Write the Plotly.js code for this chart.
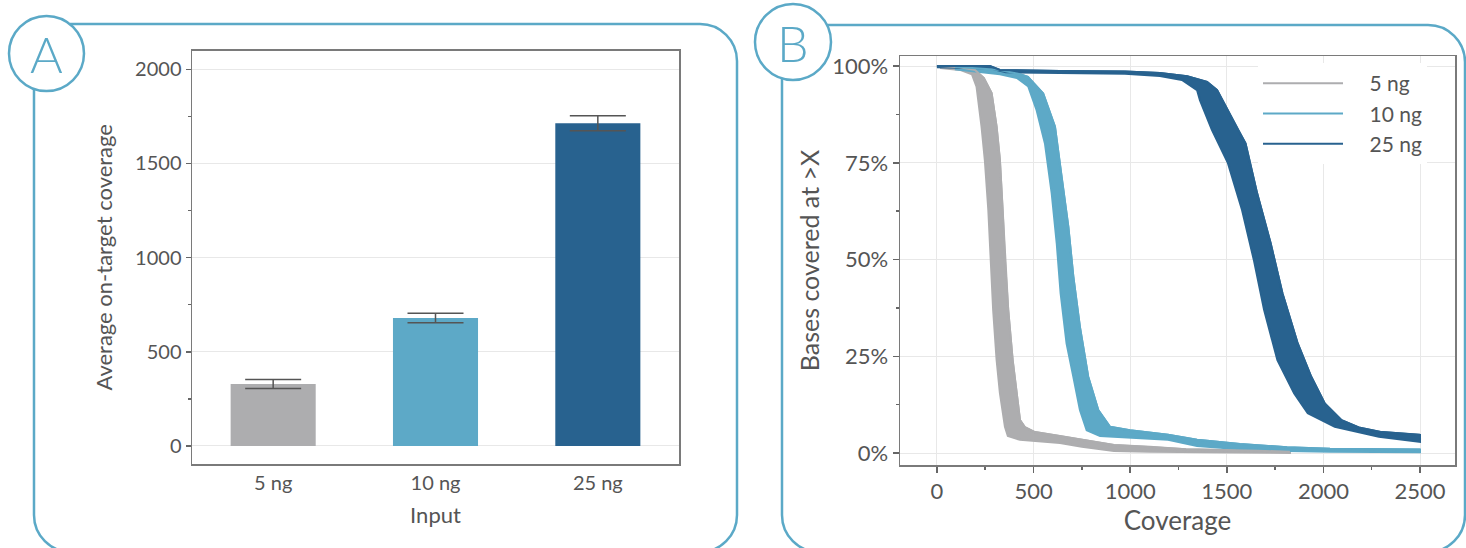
<!DOCTYPE html>
<html>
<head>
<meta charset="utf-8">
<script src="https://cdn.plot.ly/plotly-3.0.1.min.js"></script>
<style>html,body{margin:0;padding:0;background:#fff;}#chart{width:1466px;height:548px;}</style>
</head>
<body>
<div id="chart"></div>
<script>
// ---------- Panel A data ----------
const categories = ['5 ng', '10 ng', '25 ng'];
const meanCoverage = [329, 679, 1714];
const coverageError = [24, 25, 40];
const barColors = ['#adadaf', '#5da9c7', '#28628f'];

// ---------- Panel B data (coverage X, % bases covered > X) ----------
const ng5UpperX = [16, 119, 197, 243, 283, 309, 326, 340, 352, 369, 392, 413, 430, 455, 507, 637, 750, 916, 1102, 1289, 1661, 1827];
const ng5UpperY = [100, 99.7, 99.0, 96.9, 93.0, 84.3, 75.7, 62.8, 49.9, 37.0, 24.0, 15.5, 8.5, 6.7, 5.4, 4.4, 3.4, 2.1, 1.6, 1.0, 0.6, 0.3];
const ng5LowerX = [16, 119, 181, 205, 231, 248, 266, 278, 291, 309, 326, 352, 367, 430, 637, 750, 916, 1102, 1661, 1827];
const ng5LowerY = [99.5, 99.0, 97.9, 94.7, 84.3, 75.7, 62.8, 49.9, 37.0, 24.0, 15.5, 6.8, 4.4, 3.4, 2.6, 1.6, 0.5, 0.3, 0, 0];

const ng10UpperX = [93, 326, 430, 471, 550, 611, 645, 680, 706, 740, 783, 835, 895, 999, 1196, 1346, 1568, 1812, 2034, 2500];
const ng10UpperY = [99.8, 99.0, 97.9, 97.2, 92.9, 84.3, 71.4, 58.5, 45.6, 32.6, 19.7, 11.1, 6.8, 5.9, 4.7, 3.4, 2.3, 1.5, 1.1, 0.9];
const ng10LowerX = [93, 326, 414, 473, 516, 559, 594, 620, 640, 671, 706, 740, 775, 844, 1196, 1346, 1568, 1812, 2034, 2500];
const ng10LowerY = [99.2, 97.9, 96.9, 94.7, 88.6, 80.0, 67.1, 54.2, 41.3, 28.3, 19.7, 11.1, 5.9, 4.4, 3.4, 1.8, 1.0, 0.5, 0.3, 0.2];

const ng25UpperX = [0, 274, 326, 637, 973, 1154, 1295, 1398, 1450, 1496, 1558, 1597, 1657, 1727, 1788, 1867, 1937, 2007, 2094, 2189, 2303, 2500];
const ng25UpperY = [100, 100, 99.0, 98.7, 98.6, 98.2, 97.4, 95.9, 93.8, 89.5, 83.5, 80.0, 67.1, 54.2, 41.3, 28.3, 19.7, 12.8, 8.5, 6.5, 5.4, 4.7];
const ng25LowerX = [0, 274, 357, 637, 973, 1154, 1268, 1346, 1361, 1423, 1506, 1579, 1640, 1693, 1762, 1849, 1919, 2059, 2287, 2500];
const ng25LowerY = [99.7, 99.4, 98.4, 98.2, 98.0, 97.4, 96.4, 93.8, 91.2, 83.5, 74.9, 62.8, 49.9, 37.0, 24.0, 15.4, 10.3, 6.8, 4.2, 2.9];

const seriesNames = ['5 ng', '10 ng', '25 ng'];
const seriesB = [
  {name: seriesNames[0], color: barColors[0], ux: ng5UpperX, uy: ng5UpperY, lx: ng5LowerX, ly: ng5LowerY},
  {name: seriesNames[1], color: barColors[1], ux: ng10UpperX, uy: ng10UpperY, lx: ng10LowerX, ly: ng10LowerY},
  {name: seriesNames[2], color: barColors[2], ux: ng25UpperX, uy: ng25UpperY, lx: ng25LowerX, ly: ng25LowerY}
];

// ---------- layout helpers (pixel -> paper) ----------
const W = 1466, H = 548;
const px = x => x / W;
const py = y => 1 - y / H;
const P = (x, y) => px(x).toFixed(5) + ' ' + py(y).toFixed(5);
const FRAME = '#5ba9c7';
const TXT = '#555555';
const FONT = 'Lato, "Noto Sans", sans-serif';
const NB = '\u00a0\u00a0\u00a0\u00a0';

function framePath(l, t, r, b, r0, startTopX, startLeftY) {
  const k = 0.5523 * r0;
  return 'M ' + P(startTopX, t) + ' L ' + P(r - r0, t) +
    ' C ' + P(r - r0 + k, t) + ' ' + P(r, t + r0 - k) + ' ' + P(r, t + r0) +
    ' L ' + P(r, b - r0) +
    ' C ' + P(r, b - r0 + k) + ' ' + P(r - r0 + k, b) + ' ' + P(r - r0, b) +
    ' L ' + P(l + r0, b) +
    ' C ' + P(l + r0 - k, b) + ' ' + P(l, b - r0 + k) + ' ' + P(l, b - r0) +
    ' L ' + P(l, startLeftY);
}

const traces = [];
traces.push({
  type: 'bar', x: categories, y: meanCoverage,
  marker: {color: barColors, line: {width: 0}},
  error_y: {type: 'data', array: coverageError, visible: true, color: '#555555', thickness: 1.5, width: 28},
  xaxis: 'x', yaxis: 'y', showlegend: false, hoverinfo: 'skip'
});

// band = envelope of replicate curves (lower edge forward, upper edge back)
seriesB.forEach(s => {
  traces.push({type: 'scatter', mode: 'lines',
    x: s.lx.concat(s.ux.slice().reverse()), y: s.ly.concat(s.uy.slice().reverse()),
    xaxis: 'x2', yaxis: 'y2', fill: 'toself', fillcolor: s.color,
    line: {color: s.color, width: 2}, showlegend: false, hoverinfo: 'skip'});
});
seriesB.forEach(s => {
  traces.push({type: 'scatter', mode: 'lines', x: s.ux, y: s.uy, xaxis: 'x2', yaxis: 'y2', name: NB + s.name,
    line: {color: s.color, width: 2}, showlegend: true, hoverinfo: 'skip', legendgroup: s.name});
});

const axisCommon = {
  showline: true, linecolor: '#7a7a7a', linewidth: 1.5, mirror: true,
  gridcolor: '#e8e8e8', gridwidth: 1, zeroline: false,
  tickfont: {family: FONT, size: 20, color: TXT}, tickcolor: '#666', automargin: false
};

const layout = {
  width: W, height: H,
  margin: {l: 0, r: 0, t: 0, b: 0},
  paper_bgcolor: '#fff', plot_bgcolor: '#fff',
  font: {family: FONT, color: TXT},
  bargap: 0.476,
  xaxis: Object.assign({}, axisCommon, {
    domain: [px(192), px(679)], anchor: 'y', type: 'category', range: [-0.5, 2.5],
    showgrid: false, ticks: '',
    title: {text: 'Input', font: {family: FONT, size: 22, color: TXT}, standoff: 15}
  }),
  yaxis: Object.assign({}, axisCommon, {
    domain: [py(464), py(50.7)], anchor: 'x', range: [-96, 2099],
    dtick: 500, tick0: 0, ticks: 'outside', ticklen: 5, tickwidth: 1.5,
    minor: {dtick: 250, ticks: 'outside', ticklen: 3, tickcolor: '#666', showgrid: false},
    title: {text: 'Average on-target coverage', font: {family: FONT, size: 22, color: TXT}, standoff: 16}
  }),
  xaxis2: Object.assign({}, axisCommon, {
    domain: [px(900), px(1455)], anchor: 'y2', range: [-191, 2681],
    dtick: 500, tick0: 0, ticks: 'outside', ticklen: 6, tickwidth: 1.5,
    minor: {dtick: 250, ticks: 'outside', ticklen: 3, tickcolor: '#666', showgrid: false},
    tickfont: {family: FONT, size: 22, color: TXT},
    title: {text: 'Coverage', font: {family: FONT, size: 26, color: TXT}, standoff: 5}
  }),
  yaxis2: Object.assign({}, axisCommon, {
    domain: [py(465), py(56)], anchor: 'x2', range: [-3.1, 102.6],
    dtick: 25, tick0: 0, ticksuffix: '%', ticks: 'outside', ticklen: 6, tickwidth: 1.5,
    minor: {dtick: 12.5, ticks: 'outside', ticklen: 3, tickcolor: '#666', showgrid: false},
    tickfont: {family: FONT, size: 22, color: TXT},
    title: {text: 'Bases covered at >X', font: {family: FONT, size: 25, color: TXT}, standoff: 5}
  }),
  legend: {
    x: px(1258), y: py(63), xanchor: 'left', yanchor: 'top',
    bgcolor: '#ffffff', borderwidth: 0,
    font: {family: FONT, size: 21, color: TXT},
    itemwidth: 80, tracegroupgap: 7, traceorder: 'normal'
  },
  shapes: [
    {type: 'path', xref: 'paper', yref: 'paper', path: framePath(34, 24, 737, 552, 37, 70, 89),
      line: {color: FRAME, width: 2.5}},
    {type: 'path', xref: 'paper', yref: 'paper', path: framePath(782, 25, 1465, 552, 37, 827, 79),
      line: {color: FRAME, width: 2.5}},
    {type: 'circle', xref: 'paper', yref: 'paper', x0: px(9), x1: px(84), y0: py(91), y1: py(16),
      line: {color: FRAME, width: 2.5}},
    {type: 'circle', xref: 'paper', yref: 'paper', x0: px(755), x1: px(831), y0: py(80), y1: py(4),
      line: {color: FRAME, width: 2.5}}
  ],
  annotations: [
    {xref: 'paper', yref: 'paper', x: px(46.5), y: py(54), text: 'A', showarrow: false,
      xanchor: 'center', yanchor: 'middle', font: {family: FONT, size: 50, color: FRAME, weight: 300}},
    {xref: 'paper', yref: 'paper', x: px(793), y: py(43), text: 'B', showarrow: false,
      xanchor: 'center', yanchor: 'middle', font: {family: FONT, size: 50, color: FRAME, weight: 300}}
  ]
};

Plotly.newPlot('chart', traces, layout, {displayModeBar: false, staticPlot: true});
</script>
</body>
</html>
